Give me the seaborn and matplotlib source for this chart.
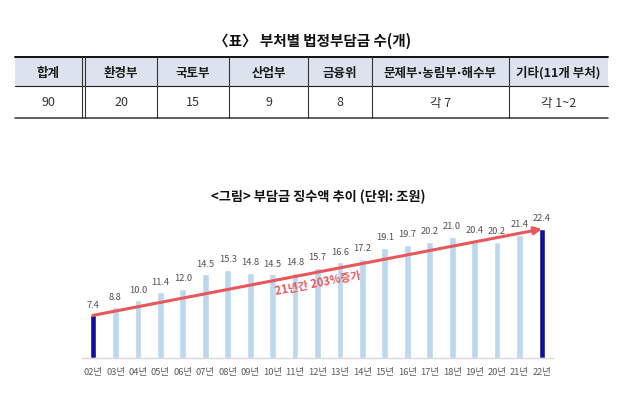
import matplotlib
matplotlib.use("Agg")
import matplotlib.pyplot as plt
from matplotlib.lines import Line2D
from matplotlib.patches import Rectangle
import seaborn as sns
import pandas as pd

# ---- data ----
table_title = "〈표〉 부처별 법정부담금 수(개)"
table_headers = ["합계", "환경부", "국토부", "산업부", "금융위", "문제부·농림부·해수부", "기타(11개 부처)"]
table_counts = ["90", "20", "15", "9", "8", "각 7", "각 1~2"]

chart_title = "<그림> 부담금 징수액 추이 (단위: 조원)"
years = ["02년", "03년", "04년", "05년", "06년", "07년", "08년", "09년", "10년", "11년",
         "12년", "13년", "14년", "15년", "16년", "17년", "18년", "19년", "20년", "21년", "22년"]
values = [7.4, 8.8, 10.0, 11.4, 12.0, 14.5, 15.3, 14.8, 14.5, 14.8,
          15.7, 16.6, 17.2, 19.1, 19.7, 20.2, 21.0, 20.4, 20.2, 21.4, 22.4]
trend_label = "21년간 203%증가"

sns.set_style("white")
plt.rcParams["font.family"] = ["Noto Sans CJK KR", "DejaVu Sans"]

W, H = 626, 402
fig = plt.figure(figsize=(W / 100, H / 100), dpi=100)
fig.patch.set_facecolor("white")


def fx(x):
    return x / W


def fy(y):
    return 1 - y / H


def hline(x0, x1, y, lw=1.0, color="#222222"):
    fig.add_artist(Line2D([fx(x0), fx(x1)], [fy(y), fy(y)], lw=lw, color=color,
                          transform=fig.transFigure))


def vline(x, y0, y1, lw=0.8, color="#333333"):
    fig.add_artist(Line2D([fx(x), fx(x)], [fy(y0), fy(y1)], lw=lw, color=color,
                          transform=fig.transFigure))


# ---- table ----
fig.text(fx(313), fy(41), table_title, ha="center", va="center",
         fontsize=10.5, fontweight="bold", color="#111111")

col_edges = [15, 82, 157, 229, 308, 372, 509, 608]
top, mid, bot = 58, 87, 119
fig.add_artist(Rectangle((fx(col_edges[0]), fy(mid)), fx(col_edges[-1] - col_edges[0]),
                         (mid - top) / H, facecolor="#dce3ee", edgecolor="none",
                         transform=fig.transFigure))
hline(col_edges[0], col_edges[-1], top, lw=1.4, color="#111111")
hline(col_edges[0], col_edges[-1], mid, lw=0.8, color="#222222")
hline(col_edges[0], col_edges[-1], bot, lw=1.1, color="#333333")
for i, x in enumerate(col_edges[1:-1]):
    vline(x, top, bot)
    if i == 0:
        vline(x + 2.5, top, bot)

for i, (h, c) in enumerate(zip(table_headers, table_counts)):
    left = col_edges[i] + (3 if i == 1 else 0)
    cx = (left + col_edges[i + 1]) / 2
    fam = ["DejaVu Sans", "Noto Sans CJK KR"] if "·" in h else ["Noto Sans CJK KR", "DejaVu Sans"]
    fig.text(fx(cx), fy(73), h, ha="center", va="center", fontsize=9,
             fontweight="bold", color="#1a1a1a", family=fam)
    fig.text(fx(cx), fy(103), c, ha="center", va="center", fontsize=9,
             color="#333333")

# ---- chart ----
fig.text(fx(318), fy(197), chart_title, ha="center", va="center",
         fontsize=9.5, fontweight="bold", color="#111111")

ax = fig.add_axes([fx(82), 43 / H, (553 - 82) / W, (359 - 200) / H])
df = pd.DataFrame({"year": years, "value": values})
light, dark = "#bdd7ee", "#10109a"
palette = {y: (dark if i in (0, len(years) - 1) else light) for i, y in enumerate(years)}
sns.barplot(data=df, x="year", y="value", hue="year", palette=palette, legend=False,
            width=0.3, ax=ax, saturation=1)

ax.set_xlim(-0.49, len(years) - 0.51)
ax.set_ylim(0, 27.6)
ax.set_xlabel("")
ax.set_ylabel("")
ax.set_yticks([])
for s in ["top", "right", "left"]:
    ax.spines[s].set_visible(False)
ax.spines["bottom"].set_color("#d9d9d9")
ax.spines["bottom"].set_linewidth(1.0)
ax.tick_params(axis="x", length=0, pad=6.5, labelsize=6.7, labelcolor="#595959")
ax.set_facecolor("white")

for i, v in enumerate(values):
    ax.annotate(f"{v:.1f}", (i, v), xytext=(0, 8), textcoords="offset points",
                ha="center", va="center", fontsize=6.7, color="#505050")

red = "#e8575b"
ax.annotate("", xy=(len(values) - 1, values[-1]), xytext=(0, values[0]),
            arrowprops=dict(arrowstyle="-|>", color=red, lw=2.2, mutation_scale=11,
                            shrinkA=0, shrinkB=0))
ax.text(10.0, 13.2, trend_label, ha="center", va="center", rotation=10.8,
        fontsize=8, fontweight="bold", color=red)

fig.savefig("out.png", dpi=100, facecolor="white")
